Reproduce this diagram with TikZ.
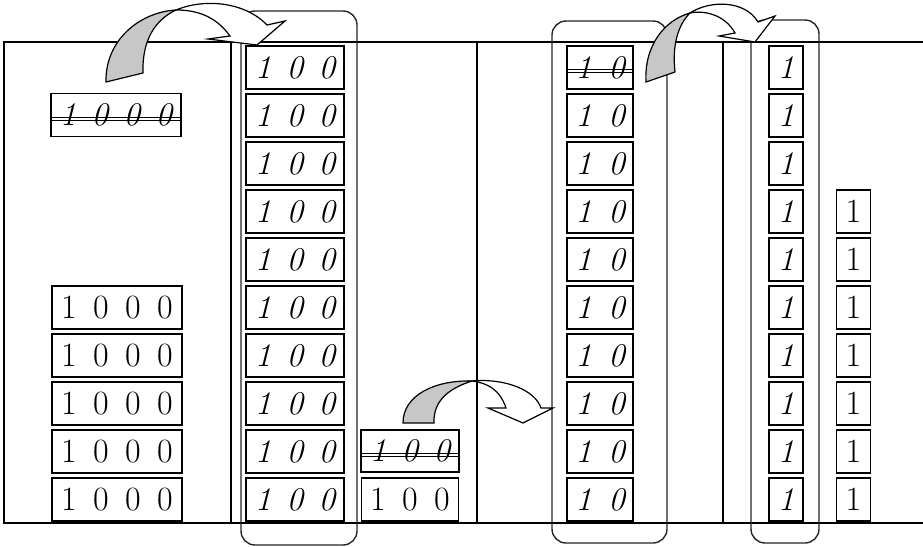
\documentclass[tikz,border=0pt]{standalone}
\usetikzlibrary{calc}
\tikzset{
  box/.style={draw,line width=1.7pt,inner sep=0pt,minimum height=43pt},
  numit/.style={font=\fontsize{33}{33}\selectfont\itshape},
  numup/.style={font=\fontsize{34}{34}\selectfont},
  grp/.style={draw=black!85,line width=1.4pt,rounded corners=14pt},
  ribbon/.style={draw,line width=1.2pt,line join=miter},
  strike/.style={line width=.9pt},
}
\colorlet{shade}{black!22}
\newcommand\dg[1]{\makebox[32pt]{#1}}
\newcommand\dt[1]{\makebox[33pt]{#1}}

\begin{document}
\begin{tikzpicture}[x=1pt,y=-1pt]
  \useasboundingbox (0,0) rectangle (923,546);

  % frame and columns
  \draw[line width=1.8pt](923,42)--(4,42)--(4,523)--(923,523);
  \foreach \x in {231,477,723}{
    \draw[line width=1.8pt](\x,42)--(\x,523);
  }
  \draw[grp](241,11) rectangle (357,545);
  \draw[grp](552,21) rectangle (667,543);
  \draw[grp](751,20) rectangle (819,543);

  % thousands
  \node[box,numit,minimum width=130pt](thx)at(116,115){\dg1\dg0\dg0\dg0};
  \foreach \i in {1,...,5}{
    \node[box,numup,minimum width=130pt](th\i)at(117,{259.5+48*\i}){\dg1\dg0\dg0\dg0};
  }

  % hundreds
  \foreach \i in {0,...,9}{
    \node[box,numit,minimum width=98pt](h\i)at(295,{67.5+48*\i}){\dg1\dg0\dg0};
  }
  \node[box,numit,minimum width=98pt,minimum height=42pt](hx)at(410,451){\dg1\dg0\dg0};
  \node[box,numup,minimum width=97pt](hu)at(410,499.5){\dg1\dg0\dg0};

  % tens and ones
  \foreach \i in {0,...,9}{
    \node[box,numit,minimum width=66pt](t\i)at(600,{67.5+48*\i}){\dt1\dt0};
    \node[box,numit,minimum width=34pt](o\i)at(786,{67.5+48*\i}){1};
  }
  \foreach \i in {3,...,9}{
    \node[box,numup,minimum width=34pt](u\i)at(853.5,{67.5+48*\i}){1};
  }

  % crossed out
  \foreach \n in {thx,hx,t0}{
    \draw[strike]([yshift=-2pt]\n.west)--([yshift=-2pt]\n.east);
    \draw[strike]([yshift=-5pt]\n.west)--([yshift=-5pt]\n.east);
  }

  % 1000 -> 100
  \filldraw[ribbon,fill=shade](106,82)..controls(105,40)and(140,12)..(176,10)
    ..controls(155,20)and(142,40)..(143,73)--cycle;
  \filldraw[ribbon,fill=white](176,10)..controls(205,-2)and(245,2)..(267,25)
    --(285,21)--(257,45)--(208,39)--(230,36)
    ..controls(215,15)and(195,10)..(176,10)--cycle;

  % 100 -> 10
  \filldraw[ribbon,fill=shade](403,423)..controls(403,395)and(435,380)..(472,381)
    ..controls(450,388)and(433,400)..(434,423)--cycle;
  \draw[ribbon](472,381)..controls(505,378)and(535,390)..(541,408)
    --(553,408)--(523,423)--(488,408)--(506,408)
    ..controls(500,390)and(488,383)..(472,381)--cycle;

  % 10 -> 1
  \filldraw[ribbon,fill=shade](646,82)..controls(644,45)and(665,20)..(690,13)
    ..controls(678,25)and(672,45)..(675,72)--cycle;
  \filldraw[ribbon,fill=white](690,13)..controls(710,0)and(745,0)..(758,22)
    --(775,16)--(755,42)--(719,36)--(735,33)
    ..controls(725,15)and(705,10)..(690,13)--cycle;
\end{tikzpicture}
\end{document}
